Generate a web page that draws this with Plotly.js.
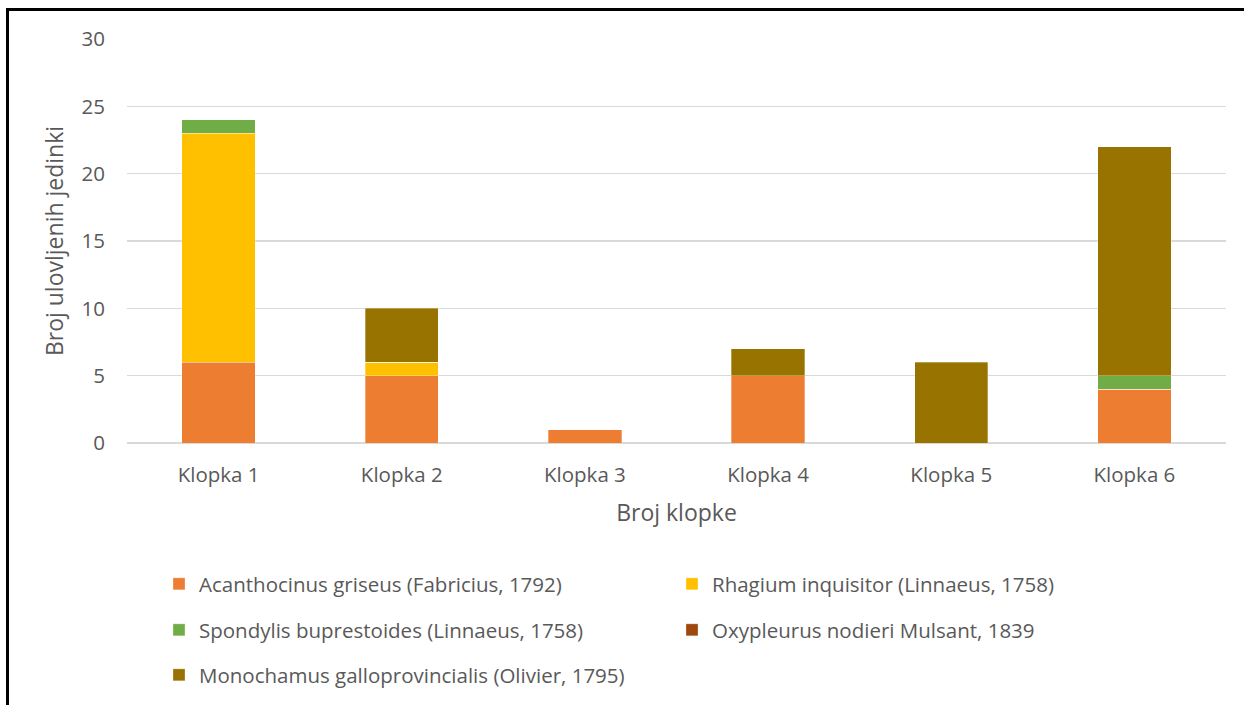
<!DOCTYPE html>
<html>
<head>
<meta charset="utf-8">
<script src="https://cdn.plot.ly/plotly-3.0.1.min.js"></script>
<style>
html,body{margin:0;padding:0;background:#fff;}
#wrap{position:relative;width:1244px;height:705px;}
#chart{width:1244px;height:705px;}
.bt{position:absolute;left:6px;top:8px;width:1238px;height:3px;background:#000;}
.bl{position:absolute;left:6px;top:8px;width:3px;height:697px;background:#000;}
</style>
</head>
<body>
<div id="wrap"><div id="chart"></div><div class="bt"></div><div class="bl"></div></div>
<script>
const categories = ["Klopka 1","Klopka 2","Klopka 3","Klopka 4","Klopka 5","Klopka 6"];
const acanthocinus = [6,5,1,5,0,4];
const rhagium      = [17,1,0,0,0,0];
const spondylis    = [1,0,0,0,0,1];
const oxypleurus   = [0,0,0,0,0,0];
const monochamus   = [0,4,0,2,6,17];
const seriesNames = [
  "Acanthocinus griseus (Fabricius, 1792)",
  "Rhagium inquisitor (Linnaeus, 1758)",
  "Spondylis buprestoides (Linnaeus, 1758)",
  "Oxypleurus nodieri Mulsant, 1839",
  "Monochamus galloprovincialis (Olivier, 1795)"
];
const seriesValues = [acanthocinus, rhagium, spondylis, oxypleurus, monochamus];
const colors = ["#ED7D31","#FFC000","#70AD47","#9E480E","#997300"];
const legendIds = ["legend","legend","legend2","legend2","legend3"];

const FONT = "'Open Sans', sans-serif";
const GRAY = "#595959";
const FS = 20.5;
const TFS = 23;

const traces = seriesNames.map((n,i)=>({
  type:"bar", name:n, x:categories, y:seriesValues[i],
  marker:{color:colors[i], line:{color:"rgba(255,255,255,0.6)", width:0.5}},
  legend:legendIds[i], hoverinfo:"x+y+name"
}));

const PL=127, PR=1226, PT=39, PB=444;
const W=PR-PL, H=PB-PT;
const px = x => (x-PL)/W;
const py = y => (PB-y)/H;

function leg(y){
  return {orientation:"h", x:px(159), xanchor:"left", y:py(y), yanchor:"middle",
    entrywidth:468, entrywidthmode:"pixels", itemwidth:30, traceorder:"normal",
    font:{family:FONT, size:FS, color:GRAY}, bgcolor:"rgba(0,0,0,0)"};
}

const layout = {
  width:1244, height:705,
  margin:{l:PL, r:1244-PR, t:PT, b:705-PB, pad:0},
  paper_bgcolor:"#fff", plot_bgcolor:"#fff",
  barmode:"stack", bargap:0.6,
  font:{family:FONT, size:FS, color:GRAY},
  showlegend:true,
  legend:leg(584), legend2:leg(630), legend3:leg(675),
  xaxis:{
    type:"category", showgrid:false, showline:false, zeroline:false,
    ticks:"", tickfont:{family:FONT,size:FS,color:GRAY},
    ticklabelstandoff:17,
    title:{text:"Broj klopke", font:{family:FONT,size:TFS,color:GRAY}, standoff:18},
    automargin:false, fixedrange:true
  },
  yaxis:{
    range:[0,30], dtick:5, tick0:0, showgrid:true, gridcolor:"#D9D9D9", gridwidth:1.3,
    zeroline:true, zerolinecolor:"#D9D9D9", zerolinewidth:1.3, showline:false,
    ticks:"", tickfont:{family:FONT,size:FS,color:GRAY}, ticklabelstandoff:21,
    title:{text:"Broj ulovljenih jedinki", font:{family:FONT,size:TFS,color:GRAY}, standoff:11},
    automargin:false, fixedrange:true
  }
};

Plotly.newPlot("chart", traces, layout, {displayModeBar:false, staticPlot:true});
</script>
</body>
</html>
